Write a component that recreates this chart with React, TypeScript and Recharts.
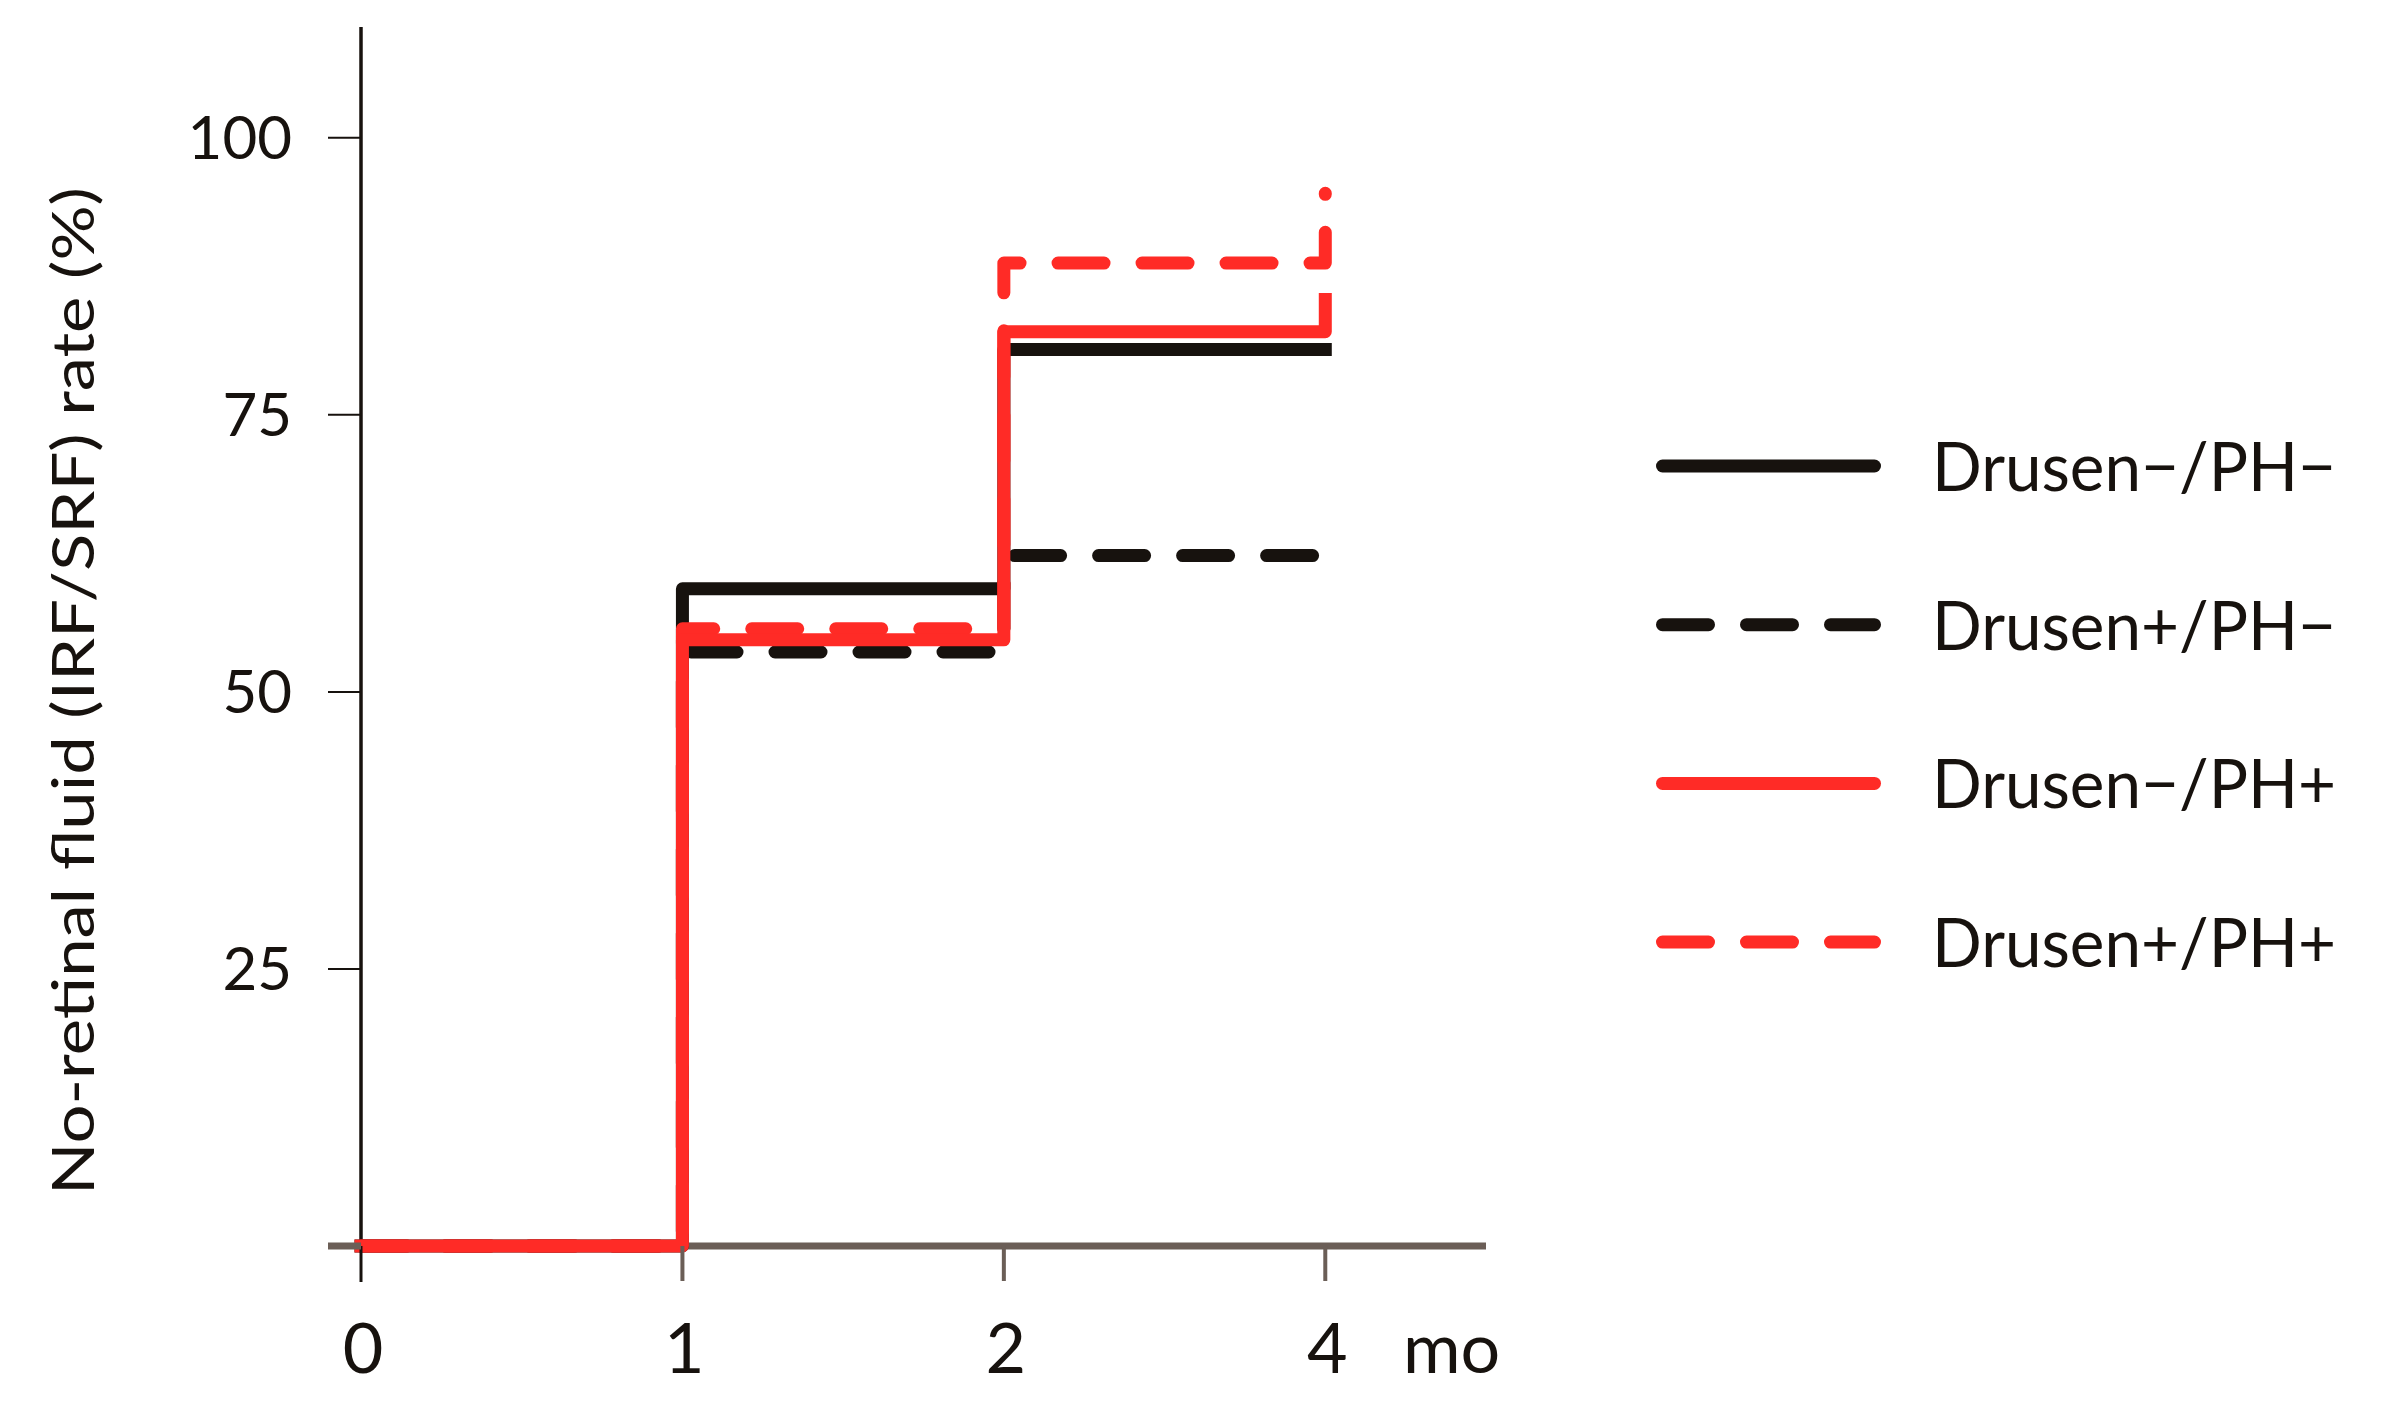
import { LineChart, Line, XAxis, YAxis, Legend } from 'recharts'

// month positions on the axis (the last tick is month 4, drawn one step after 2)
const monthPositions = [0, 1, 2, 3]
const monthLabels = ['0', '1', '2', '4']
const rateTicks = [0, 25, 50, 75, 100]

// no-retinal-fluid rate (%) per group
const drusenNegPhNeg = [0, 59.3, 80.9, 80.9]
const drusenPosPhNeg = [0, 53.6, 62.3, 62.3]
const drusenNegPhPos = [0, 54.7, 82.5, 85.4]
const drusenPosPhPos = [0, 55.7, 88.7, 95.0]

const seriesNames = ['Drusen−/PH−', 'Drusen+/PH−', 'Drusen−/PH+', 'Drusen+/PH+']
const seriesKeys = ['negNeg', 'posNeg', 'negPos', 'posPos']

const INK = '#17120e'
const RED = '#ff2b26'
const AXIS_GRAY = '#6b5e57'
const FONT = 'Lato, "Open Sans", sans-serif'

const seriesColors = [INK, INK, RED, RED]
const seriesDashes: (string | undefined)[] = [undefined, '46 38', undefined, '46 38']

const data = monthPositions.map((m, i) => ({
  month: m,
  negNeg: drusenNegPhNeg[i],
  posNeg: drusenPosPhNeg[i],
  negPos: drusenNegPhPos[i],
  posPos: drusenPosPhPos[i],
}))

const Y_TICK = 33
const Y_MARGIN = 36
const X_TICK = 35
const X_MARGIN = 92

const YTick = ({ x, y, payload }: any) => {
  const zero = payload.value === 0
  return (
    <g>
      <line
        x1={x + Y_MARGIN}
        x2={x + Y_MARGIN + Y_TICK}
        y1={y}
        y2={y}
        stroke={zero ? AXIS_GRAY : INK}
        strokeWidth={zero ? 7 : 2}
      />
      {!zero && (
        <text x={x} y={y + 21} textAnchor="end" fontSize={60} fontFamily={FONT} fill={INK}>
          {payload.value}
        </text>
      )}
    </g>
  )
}

const XTick = ({ x, y, payload }: any) => {
  const zero = payload.value === 0
  const top = y - X_MARGIN - X_TICK
  const label = monthLabels[monthPositions.indexOf(payload.value)]
  return (
    <g>
      <line
        x1={x}
        x2={x}
        y1={top}
        y2={top + X_TICK + (zero ? 1 : 0)}
        stroke={zero ? INK : AXIS_GRAY}
        strokeWidth={zero ? 3 : 4}
      />
      <text x={x + 2} y={y} textAnchor="middle" fontSize={70} fontFamily={FONT} fill={INK}>
        {label}
      </text>
    </g>
  )
}

const renderLegend = () => (
  <svg width={734} height={600}>
    {seriesNames.map((name, i) => {
      const cy = 66 + i * 158.7
      return (
        <g key={name}>
          <line
            x1={22.5}
            x2={234.5}
            y1={cy}
            y2={cy}
            stroke={seriesColors[i]}
            strokeWidth={13}
            strokeLinecap="round"
            strokeDasharray={seriesDashes[i]}
          />
          <text
            x={292}
            y={cy + 25}
            fontSize={68}
            fontFamily={FONT}
            fill={INK}
            textLength={404}
            lengthAdjust="spacingAndGlyphs"
          >
            {name}
          </text>
        </g>
      )
    })}
  </svg>
)

// red solid goes last so it covers the shared rises and the zero segment
const drawOrder = [0, 1, 3, 2]

export default function App() {
  return (
    <LineChart width={2366} height={1399} data={data} margin={{ top: 19, right: 888, bottom: 0, left: 0 }}>
      <XAxis
        dataKey="month"
        type="number"
        domain={[0, 3.5]}
        ticks={monthPositions}
        height={161}
        tickSize={X_TICK}
        tickMargin={X_MARGIN}
        tickLine={false}
        axisLine={{ stroke: AXIS_GRAY, strokeWidth: 7 }}
        tick={<XTick />}
        label={{
          content: ({ viewBox }: any) => (
            <text
              x={viewBox.x + viewBox.width - 83}
              y={viewBox.y + 127}
              fontSize={70}
              fontFamily={FONT}
              fill={INK}
            >
              mo
            </text>
          ),
        }}
      />
      <YAxis
        type="number"
        domain={[0, 110]}
        ticks={rateTicks}
        width={353}
        tickSize={Y_TICK}
        tickMargin={Y_MARGIN}
        tickLine={false}
        axisLine={{ stroke: INK, strokeWidth: 3.5 }}
        tick={<YTick />}
        label={{
          content: ({ viewBox }: any) => {
            const x = viewBox.x + 86
            const y = viewBox.y + 664
            return (
              <text
                x={x}
                y={y}
                transform={`rotate(-90, ${x}, ${y})`}
                textAnchor="middle"
                fontSize={58}
                fontFamily={FONT}
                fill={INK}
                textLength={1008}
                lengthAdjust="spacingAndGlyphs"
              >
                No-retinal fluid (IRF/SRF) rate (%)
              </text>
            )
          },
        }}
      />
      {drawOrder.map((i, k) => (
        <Line
          key={seriesKeys[i]}
          dataKey={seriesKeys[i]}
          name={seriesNames[i]}
          type="stepAfter"
          stroke={seriesColors[i]}
          strokeWidth={13}
          strokeDasharray={seriesDashes[i]}
          strokeLinecap={seriesDashes[i] ? 'round' : 'square'}
          strokeLinejoin="round"
          dot={false}
          activeDot={false}
          isAnimationActive={false}
          zIndex={600 + k}
        />
      ))}
      <Legend
        layout="vertical"
        align="center"
        verticalAlign="middle"
        content={renderLegend}
        wrapperStyle={{ left: 1632, top: 392, width: 734, height: 600 }}
      />
    </LineChart>
  )
}
